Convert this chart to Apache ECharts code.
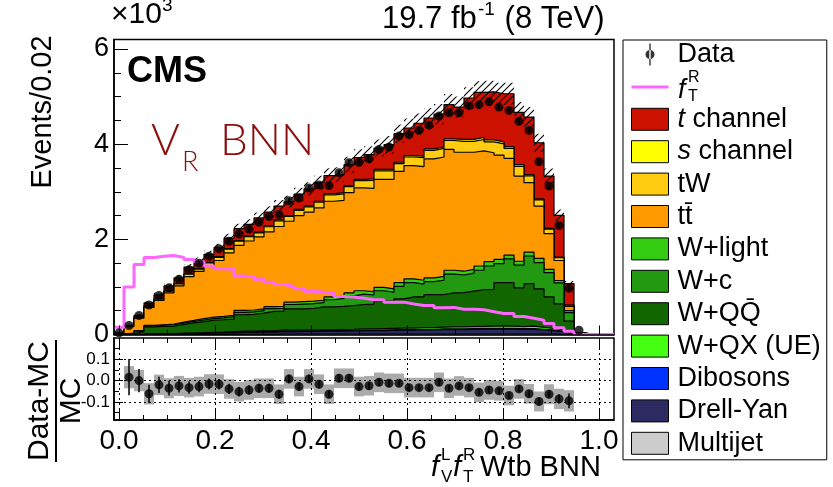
<!DOCTYPE html>
<html><head><meta charset="utf-8">
<script src="https://cdn.jsdelivr.net/npm/echarts@6/dist/echarts.min.js"></script>
<style>html,body{margin:0;padding:0;background:#fff}#c{width:833px;height:487px}</style>
</head><body><div id="c"></div>
<script>
// ---------- binning (50 bins of width 1/48, centred on k/48) ----------
const nBins = 50;
const binW = 1 / 48;
const binLow = -1 / 96;

// ---------- data (in units of 10^3 events) ----------
const dataVals = [0.035,0.19,0.40,0.62,0.82,0.98,1.16,1.36,1.50,1.645,
  1.80,1.96,2.11,2.21,2.36,2.48,2.52,2.81,2.87,3.08,
  3.14,3.13,3.40,3.61,3.62,3.69,3.89,3.94,4.17,4.20,
  4.29,4.40,4.59,4.66,4.66,4.81,4.83,4.89,4.78,4.71,
  4.48,4.29,3.63,3.12,2.29,0.97,0.09];

const multijet = [0,0,0,0,0,0,0,0,0,0, 0.005,0.005,0.005,0.005,0.005,0.005,0.01,0.01,0.01,0.01,
  0.01,0.01,0.01,0.01,0.01,0.01,0.01,0.01,0.01,0.01, 0.01,0.01,0.01,0.01,0.01,0.01,0.01,0.01,0.01,0.01,
  0.01,0.01,0.01,0.01,0.005,0,0,0,0,0];
const drellYan = [0,0,0.004,0.01,0.01,0.015,0.02,0.02,0.025,0.03, 0.03,0.035,0.04,0.04,0.045,0.045,0.05,0.05,0.055,0.055,
  0.06,0.06,0.06,0.065,0.07,0.07,0.07,0.075,0.08,0.08, 0.085,0.085,0.09,0.09,0.09,0.095,0.1,0.1,0.1,0.1,
  0.095,0.095,0.085,0.07,0.055,0.025,0,0,0,0];
const dibosons = [0,0,0,0,0,0,0,0,0.005,0.005, 0.005,0.005,0.01,0.01,0.01,0.01,0.01,0.01,0.01,0.01,
  0.01,0.01,0.01,0.01,0.015,0.015,0.015,0.015,0.015,0.015, 0.015,0.015,0.02,0.02,0.02,0.02,0.02,0.02,0.02,0.02,
  0.02,0.02,0.015,0.015,0.01,0.005,0,0,0,0];
const wQX = [0,0,0.002,0.005,0.005,0.005,0.01,0.01,0.01,0.01, 0.01,0.015,0.015,0.015,0.015,0.015,0.02,0.02,0.02,0.02,
  0.02,0.02,0.025,0.025,0.025,0.025,0.03,0.03,0.03,0.03, 0.035,0.035,0.035,0.04,0.04,0.04,0.04,0.045,0.05,0.045,
  0.04,0.05,0.04,0.035,0.03,0.02,0,0,0,0];
const wQQ = [0.005,0.02,0.054,0.145,0.155,0.155,0.18,0.215,0.23,0.255, 0.26,0.265,0.345,0.355,0.375,0.41,0.40,0.45,0.445,0.455,
  0.48,0.48,0.485,0.50,0.51,0.52,0.575,0.57,0.615,0.655, 0.645,0.695,0.685,0.715,0.72,0.745,0.77,0.775,0.91,0.915,
  0.815,0.895,0.81,0.66,0.545,0.23,0.01,0,0,0];
const wC = [0.002,0.005,0.01,0.02,0.025,0.03,0.03,0.03,0.035,0.035, 0.04,0.05,0.05,0.05,0.05,0.06,0.06,0.09,0.10,0.10,
  0.09,0.15,0.17,0.20,0.22,0.19,0.22,0.19,0.26,0.30, 0.27,0.27,0.30,0.395,0.37,0.38,0.41,0.49,0.40,0.50,
  0.48,0.58,0.55,0.51,0.44,0.18,0.005,0,0,0];
const wLight = [0.001,0.005,0.01,0.01,0.01,0.015,0.02,0.02,0.03,0.03, 0.03,0.03,0.04,0.04,0.04,0.04,0.04,0.05,0.05,0.05,
  0.05,0.06,0.06,0.065,0.07,0.07,0.07,0.07,0.08,0.08, 0.08,0.08,0.08,0.08,0.08,0.08,0.09,0.09,0.09,0.08,
  0.08,0.08,0.09,0.07,0.05,0.04,0.005,0,0,0];
const ttbar = [0.017,0.135,0.265,0.38,0.51,0.655,0.76,0.92,0.99,1.08, 1.175,1.31,1.37,1.45,1.51,1.57,1.68,1.70,1.81,1.87,
  1.94,2.01,2.00,2.105,2.16,2.17,2.27,2.30,2.34,2.38, 2.39,2.50,2.51,2.54,2.50,2.46,2.42,2.29,2.19,2.03,
  1.79,1.46,1.10,0.75,0.42,0.09,0.01,0,0,0];
const tW = [0.002,0.004,0.013,0.021,0.03,0.034,0.042,0.051,0.051,0.06, 0.068,0.077,0.085,0.094,0.085,0.11,0.12,0.102,0.11,0.11,
  0.12,0.136,0.136,0.128,0.153,0.17,0.18,0.18,0.162,0.18, 0.187,0.18,0.18,0.187,0.23,0.23,0.238,0.23,0.238,0.213,
  0.204,0.145,0.128,0.094,0.06,0.025,0.004,0,0,0];
const sChannel = [0,0.001,0.002,0.004,0.005,0.006,0.008,0.009,0.009,0.01, 0.012,0.013,0.015,0.016,0.015,0.02,0.02,0.018,0.02,0.02,
  0.02,0.024,0.024,0.022,0.027,0.03,0.03,0.03,0.028,0.03, 0.033,0.03,0.03,0.033,0.04,0.04,0.042,0.04,0.042,0.037,
  0.036,0.025,0.022,0.016,0.01,0.005,0.001,0,0,0];
const tChannel = [0.003,0.02,0.04,0.065,0.085,0.105,0.12,0.14,0.16,0.17, 0.19,0.22,0.25,0.24,0.30,0.29,0.29,0.29,0.32,0.36,
  0.39,0.38,0.38,0.44,0.46,0.51,0.45,0.52,0.60,0.58, 0.69,0.65,0.69,0.72,0.68,0.87,0.95,1.01,1.01,1.11,
  1.10,1.21,1.18,1.10,0.88,0.45,0.005,0,0,0];
const signalFTR = [0.15,1.0,1.47,1.62,1.645,1.66,1.62,1.575,1.53,1.44, 1.38,1.37,1.23,1.21,1.16,1.10,1.05,1.01,0.96,0.91,
  0.89,0.86,0.80,0.79,0.76,0.73,0.73,0.68,0.68,0.64, 0.61,0.61,0.56,0.57,0.53,0.53,0.52,0.48,0.44,0.44,
  0.38,0.34,0.30,0.23,0.14,0.07,0,0,0,0];
// relative MC uncertainty per bin
const mcUnc = [0.06,0.052,0.05,0.05,0.048,0.047,0.047,0.046,0.046,0.046, 0.046,0.046,0.046,0.046,0.046,0.046,0.046,0.046,0.046,0.046,
  0.046,0.046,0.046,0.046,0.046,0.046,0.046,0.046,0.046,0.046, 0.046,0.046,0.046,0.046,0.046,0.046,0.046,0.046,0.046,0.046,
  0.046,0.046,0.047,0.047,0.048,0.05,0.05,0,0,0];
// (Data-MC)/MC per bin (bin 0 not shown)
const ratioVals = [null,0.016,0.0,-0.062,-0.020,-0.036,-0.025,-0.033,-0.028,-0.016,
  -0.017,-0.039,-0.052,-0.044,-0.036,-0.036,-0.064,0.008,-0.028,0.008,
  -0.017,-0.064,0.011,0.011,-0.028,-0.024,-0.008,-0.013,-0.013,-0.033,
  -0.033,-0.033,-0.008,-0.036,-0.025,-0.033,-0.055,-0.044,-0.048,-0.070,
  -0.039,-0.062,-0.098,-0.064,-0.086,-0.095];
const ratioErr = [0,0.085,0.055,0.043,0.038,0.034,0.031,0.029,0.027,0.026,
  0.025,0.024,0.023,0.022,0.021,0.021,0.021,0.02,0.02,0.019,
  0.019,0.019,0.018,0.018,0.018,0.017,0.017,0.017,0.016,0.016,
  0.016,0.016,0.016,0.015,0.015,0.015,0.015,0.015,0.015,0.015,
  0.016,0.016,0.017,0.019,0.022,0.035];

const xMajor = [0,0.2,0.4,0.6,0.8,1.0];
const xMinor10 = [0.1,0.3,0.5,0.7,0.9];
const xMinor05 = [0.05,0.1,0.15,0.25,0.3,0.35,0.45,0.5,0.55,0.65,0.7,0.75,0.85,0.9,0.95];
const yMajor = [0,2,4,6];
const yMinor = [0.5,1,1.5,2.5,3,3.5,4.5,5,5.5];
const rMajor = [-0.1,0,0.1];
const rMinor = [-0.15,-0.05,0.05,0.15];

// ---------- helpers ----------
const edges = Array.from({length: nBins + 1}, (_, k) => binLow + k * binW);
const centers = Array.from({length: nBins}, (_, k) => k * binW);
const xMin = edges[0], xMax = edges[nBins];
function stepData(vals) {
  const out = [];
  for (let k = 0; k < nBins; k++) out.push([edges[k], vals[k] || 0]);
  out.push([edges[nBins], vals[nBins - 1] || 0]);
  return out;
}
const FONT = 'Liberation Sans';

const comps = [
  {name: 'Multijet', vals: multijet, color: '#cccccc'},
  {name: 'Drell-Yan', vals: drellYan, color: '#2b2b62'},
  {name: 'Dibosons', vals: dibosons, color: '#0033ff'},
  {name: 'W+QX (UE)', vals: wQX, color: '#44ff11'},
  {name: 'W+Q\u0051\u0304', vals: wQQ, color: '#116600'},
  {name: 'W+c', vals: wC, color: '#229911'},
  {name: 'W+light', vals: wLight, color: '#33cc11'},
  {name: 't\u0074\u0304', vals: ttbar, color: '#ff9900'},
  {name: 'tW', vals: tW, color: '#ffcc11'},
  {name: 's channel', vals: sChannel, color: '#ffff00'},
  {name: 't channel', vals: tChannel, color: '#cc1100'}
];
// cumulative sums (THStack style)
const cum = [];
comps.forEach((c, i) => cum.push(c.vals.map((v, k) => v + (i ? cum[i - 1][k] : 0))));
const total = cum[cum.length - 1];

// hatch pattern
const hc = document.createElement('canvas');
hc.width = 7; hc.height = 7;
const g = hc.getContext('2d');
g.strokeStyle = '#000'; g.lineWidth = 1.1;
g.beginPath(); g.moveTo(0, 7); g.lineTo(7, 0); g.moveTo(-1, 1); g.lineTo(1, -1); g.moveTo(6, 8); g.lineTo(8, 6); g.stroke();

const series = [];
comps.forEach((c, i) => {
  series.push({
    type: 'line', name: c.name, xAxisIndex: 0, yAxisIndex: 0,
    data: stepData(cum[i]), step: 'end', symbol: 'none', showSymbol: false,
    lineStyle: {color: '#000', width: 1.2}, itemStyle: {color: c.color},
    areaStyle: {color: c.color, opacity: 1}, z: 2 + (comps.length - i), silent: true
  });
});
series.push({
  type: 'custom', name: 'uncBand', xAxisIndex: 0, yAxisIndex: 0, z: 20, silent: true, clip: true,
  data: total.map((t, k) => [edges[k], edges[k + 1], t * (1 - mcUnc[k]), t * (1 + mcUnc[k])]).filter(d => d[3] > 0),
  renderItem: (p, api) => {
    const a = api.coord([api.value(0), api.value(3)]), b = api.coord([api.value(1), api.value(2)]);
    return {type: 'rect', shape: {x: a[0], y: a[1], width: b[0] - a[0], height: b[1] - a[1]}, style: {fill: {image: hc, repeat: 'repeat'}}};
  }
});
series.push({
  type: 'line', name: 'fTR', xAxisIndex: 0, yAxisIndex: 0, step: 'end', symbol: 'none',
  data: stepData(signalFTR), lineStyle: {color: '#ff66ff', width: 3}, itemStyle: {color: '#ff66ff'}, z: 25, silent: true
});
series.push({
  type: 'custom', name: 'DataErr', xAxisIndex: 0, yAxisIndex: 0, z: 29, silent: true,
  data: dataVals.map((d, k) => [centers[k], d * (1 - (ratioErr[k] || 0)), d * (1 + (ratioErr[k] || 0))]),
  renderItem: (p, api) => {
    const a = api.coord([api.value(0), api.value(1)]), b = api.coord([api.value(0), api.value(2)]);
    return {type: 'line', shape: {x1: a[0], y1: a[1], x2: b[0], y2: b[1]}, style: {stroke: '#000', lineWidth: 1.5}};
  }
});
series.push({
  type: 'scatter', name: 'Data', xAxisIndex: 0, yAxisIndex: 0, symbol: 'circle', symbolSize: 9,
  itemStyle: {color: '#000'}, z: 30, silent: true,
  data: dataVals.map((d, k) => [centers[k], d])
});
// ratio panel
const rIdx = ratioVals.map((r, k) => k).filter(k => ratioVals[k] !== null);
series.push({
  type: 'custom', name: 'ratioBox', xAxisIndex: 2, yAxisIndex: 2, z: 5, silent: true, clip: true,
  data: rIdx.map(k => [edges[k], edges[k + 1], ratioVals[k] - mcUnc[k], ratioVals[k] + mcUnc[k]]),
  renderItem: (p, api) => {
    const a = api.coord([api.value(0), api.value(3)]), b = api.coord([api.value(1), api.value(2)]);
    return {type: 'rect', shape: {x: a[0], y: a[1], width: b[0] - a[0], height: b[1] - a[1]}, style: {fill: '#ababab'}};
  }
});
series.push({
  type: 'custom', name: 'ratioErr', xAxisIndex: 2, yAxisIndex: 2, z: 8, silent: true, clip: true,
  data: rIdx.map(k => [centers[k], ratioVals[k] - ratioErr[k], ratioVals[k] + ratioErr[k]]),
  renderItem: (p, api) => {
    const a = api.coord([api.value(0), api.value(1)]), b = api.coord([api.value(0), api.value(2)]);
    return {type: 'line', shape: {x1: a[0], y1: a[1], x2: b[0], y2: b[1]}, style: {stroke: '#000', lineWidth: 1.5}};
  }
});
series.push({
  type: 'scatter', name: 'ratioPts', xAxisIndex: 2, yAxisIndex: 2, symbolSize: 9, itemStyle: {color: '#000'}, z: 9, silent: true,
  data: rIdx.map(k => [centers[k], ratioVals[k]])
});

function xAx(grid, pos, ticks, len, extra) {
  return Object.assign({
    type: 'value', gridIndex: grid, position: pos, min: xMin, max: xMax, z: 50,
    axisLine: {show: false, onZero: false}, splitLine: {show: false},
    axisTick: {show: true, inside: true, length: len, customValues: ticks, lineStyle: {color: '#000', width: 1}},
    axisLabel: {show: false}
  }, extra || {});
}
function yAx(grid, min, max, ticks, len, extra) {
  return Object.assign({
    type: 'value', gridIndex: grid, position: 'left', min: min, max: max, z: 50,
    axisLine: {show: false, onZero: false}, splitLine: {show: false},
    axisTick: {show: true, inside: true, length: len, customValues: ticks, lineStyle: {color: '#000', width: 1}},
    axisLabel: {show: false}
  }, extra || {});
}

const lbl = {fontFamily: FONT, color: '#000'};
const legendData = [
  {name: 'Data', icon: 'path://M0,0M37,22M17.8,0L19.2,0L19.2,22L17.8,22ZM14,11A4.5,4.5,0,1,0,23,11A4.5,4.5,0,1,0,14,11Z', itemStyle: {color: '#000', borderWidth: 0}},
  {name: 'fTR', icon: 'path://M0,0M37,22M0,9.5L37,9.5L37,12.5L0,12.5Z', itemStyle: {color: '#ff66ff', borderWidth: 0}}
].concat(comps.slice().reverse().map(c => ({name: c.name, icon: 'rect', itemStyle: {color: c.color, borderColor: '#000', borderWidth: 1}})));

const option = {
  animation: false,
  backgroundColor: '#fff',
  grid: [
    {left: 114, top: 39.5, width: 500, height: 295, show: true, borderColor: '#000', borderWidth: 1.5, backgroundColor: 'rgba(0,0,0,0)'},
    {left: 114, top: 338, width: 500, height: 82, show: true, borderColor: '#000', borderWidth: 1.5, backgroundColor: 'rgba(0,0,0,0)'}
  ],
  xAxis: [
    xAx(0, 'bottom', xMajor, 9, {axisLine: {show: true, onZero: false, lineStyle: {color: '#000', width: 1.5}}}),
    xAx(0, 'bottom', xMinor10, 5),
    xAx(1, 'bottom', xMajor, 10, {
      axisLine: {show: true, onZero: false, lineStyle: {color: '#000', width: 1.5}},
      axisLabel: Object.assign({show: true, customValues: xMajor, fontSize: 28, margin: 7, formatter: v => v.toFixed(1)}, lbl),
      splitLine: {show: true, lineStyle: {color: '#000', type: [2, 3], width: 1}}
    }),
    xAx(1, 'bottom', xMinor05, 5),
    xAx(1, 'top', xMajor, 10),
    xAx(1, 'top', xMinor05, 5)
  ],
  yAxis: [
    yAx(0, 0, 6.2, yMajor, 14, {
      axisLine: {show: true, onZero: false, lineStyle: {color: '#000', width: 1.5}},
      axisLabel: Object.assign({show: true, customValues: yMajor, fontSize: 27, margin: 5}, lbl)
    }),
    yAx(0, 0, 6.2, yMinor, 7),
    yAx(1, -0.185, 0.2, rMajor, 9, {
      axisLine: {show: true, onZero: false, lineStyle: {color: '#000', width: 1.5}},
      axisLabel: Object.assign({show: true, customValues: rMajor, fontSize: 17, margin: 4, formatter: v => v.toFixed(1)}, lbl),
      splitLine: {show: true, lineStyle: {color: '#000', type: [2, 3], width: 1}}
    }),
    yAx(1, -0.185, 0.2, rMinor, 5)
  ],
  legend: {
    orient: 'vertical', left: 623, top: 40, padding: [1, 6, 3, 8], height: 440,
    itemWidth: 37, itemHeight: 22, itemGap: 5.4,
    borderColor: '#000', borderWidth: 1, backgroundColor: '#fff', selectedMode: false,
    textStyle: {fontFamily: FONT, fontSize: 27, color: '#000',
      rich: {i: {fontFamily: FONT, fontSize: 27, fontStyle: 'italic', color: '#000', padding: [0, 0, 0, 4]},
             n: {fontFamily: FONT, fontSize: 27, color: '#000'},
             p: {fontFamily: FONT, fontSize: 27, color: '#000', padding: [0, 0, 0, 4]}}},
    formatter: name => name === 'fTR' ? '{p| }' : name === 't channel' ? '{i|t}{n| channel}' : name === 's channel' ? '{i|s}{n| channel}' : '{p|' + name + '}',
    data: legendData
  },
  graphic: [
    {type: 'text', x: 111, y: 15, z: 100, style: {text: '\u00d710', fontFamily: FONT, fontSize: 30, fill: '#000', verticalAlign: 'middle'}},
    {type: 'text', x: 162, y: 6, z: 100, style: {text: '3', fontFamily: FONT, fontSize: 19, fill: '#000', verticalAlign: 'middle'}},
    {type: 'text', x: 382, y: 19, z: 100, style: {text: '19.7 fb', fontFamily: FONT, fontSize: 31, fill: '#000', verticalAlign: 'middle'}},
    {type: 'text', x: 478, y: 10, z: 100, style: {text: '-1', fontFamily: FONT, fontSize: 19, fill: '#000', verticalAlign: 'middle'}},
    {type: 'text', x: 496, y: 19, z: 100, style: {text: ' (8 TeV)', fontFamily: FONT, fontSize: 31, fill: '#000', verticalAlign: 'middle'}},
    {type: 'text', x: 127, y: 72, z: 100, style: {text: 'CMS', fontFamily: FONT, fontSize: 36, fontWeight: 'bold', fill: '#000', verticalAlign: 'middle'}},
    {type: 'text', x: 151, y: 141, z: 100, style: {text: 'V', fontFamily: 'Lato', fontWeight: 300, fontSize: 44, fill: '#8b0e0e', verticalAlign: 'middle'}},
    {type: 'text', x: 182, y: 162, z: 100, style: {text: 'R', fontFamily: 'Lato', fontWeight: 300, fontSize: 27, fill: '#8b0e0e', verticalAlign: 'middle'}},
    {type: 'text', x: 220, y: 141, z: 100, style: {text: 'BNN', fontFamily: 'Lato', fontWeight: 300, fontSize: 44, fill: '#8b0e0e', verticalAlign: 'middle'}},
    {type: 'text', x: 43, y: 112, rotation: Math.PI / 2, z: 100, style: {text: 'Events/0.02', fontFamily: FONT, fontSize: 29, fill: '#000', align: 'center', verticalAlign: 'middle'}},
    {type: 'group', x: 56, y: 401, rotation: Math.PI / 2, z: 100, children: [
      {type: 'text', x: 0, y: -1, style: {text: 'Data-MC', fontFamily: FONT, fontSize: 30, fill: '#000', align: 'center', verticalAlign: 'bottom'}},
      {type: 'line', shape: {x1: -61, y1: 0, x2: 61, y2: 0}, style: {stroke: '#000', lineWidth: 2}},
      {type: 'text', x: 0, y: 1, style: {text: 'MC', fontFamily: FONT, fontSize: 30, fill: '#000', align: 'center', verticalAlign: 'top'}}
    ]},
    // legend label f_T^R
    {type: 'text', x: 678, y: 90, z: 100, style: {text: 'f', fontFamily: FONT, fontStyle: 'italic', fontSize: 27, fill: '#000', verticalAlign: 'middle'}},
    {type: 'text', x: 688, y: 78, z: 100, style: {text: 'R', fontFamily: FONT, fontSize: 16, fill: '#000', verticalAlign: 'middle'}},
    {type: 'text', x: 688, y: 97, z: 100, style: {text: 'T', fontFamily: FONT, fontSize: 16, fill: '#000', verticalAlign: 'middle'}},
    // x axis title
    {type: 'text', x: 431, y: 468, z: 100, style: {text: 'f', fontFamily: FONT, fontStyle: 'italic', fontSize: 29, fill: '#000', verticalAlign: 'middle'}},
    {type: 'text', x: 441, y: 455, z: 100, style: {text: 'L', fontFamily: FONT, fontSize: 17, fill: '#000', verticalAlign: 'middle'}},
    {type: 'text', x: 441, y: 477, z: 100, style: {text: 'V', fontFamily: FONT, fontSize: 17, fill: '#000', verticalAlign: 'middle'}},
    {type: 'text', x: 453, y: 468, z: 100, style: {text: 'f', fontFamily: FONT, fontStyle: 'italic', fontSize: 29, fill: '#000', verticalAlign: 'middle'}},
    {type: 'text', x: 463, y: 455, z: 100, style: {text: 'R', fontFamily: FONT, fontSize: 17, fill: '#000', verticalAlign: 'middle'}},
    {type: 'text', x: 463, y: 477, z: 100, style: {text: 'T', fontFamily: FONT, fontSize: 17, fill: '#000', verticalAlign: 'middle'}},
    {type: 'text', x: 480, y: 468, z: 100, style: {text: 'Wtb BNN', fontFamily: FONT, fontSize: 29, fill: '#000', verticalAlign: 'middle'}}
  ],
  series: series
};
const chart = echarts.init(document.getElementById('c'), null, {renderer: 'canvas'});
chart.setOption(option);
</script>
</body></html>
